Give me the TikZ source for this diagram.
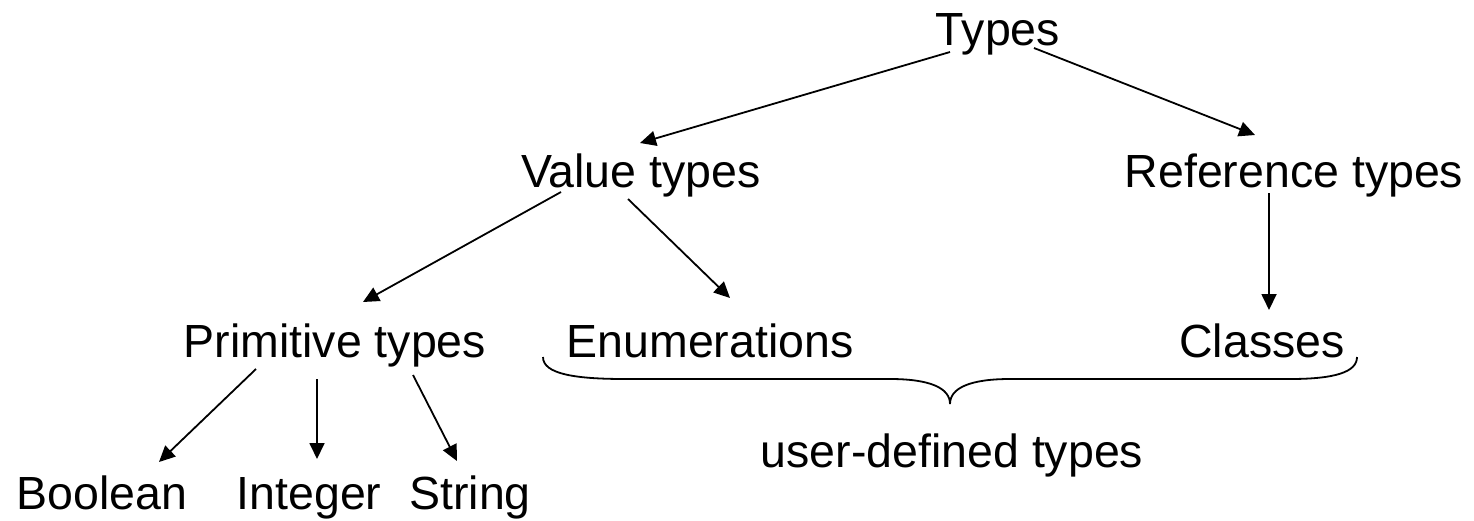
\documentclass[tikz,border=0pt]{standalone}
\usepackage{fontspec}
\setmainfont{Liberation Sans}
\usetikzlibrary{arrows.meta}
\begin{document}
\begin{tikzpicture}[x=1pt, y=-1pt,
  label/.style={inner sep=0pt, anchor=base, font=\fontsize{46.5pt}{52pt}\selectfont},
  arr/.style={line width=1.8pt, -{Triangle[length=16pt, width=15pt]}},
  bracepath/.style={line width=1.8pt}]
\useasboundingbox (0,0) rectangle (1474,520);

% type hierarchy labels
\node[label] (types) at (998,45) {Types};
\node[label] (value) at (641,187) {Value types};
\node[label] (ref)   at (1294,187) {Reference types};
\node[label] (prim)  at (335,357) {Primitive types};
\node[label] (enum)  at (710,357) {Enumerations};
\node[label] (cls)   at (1262,357) {Classes};
\node[label] (bool)  at (102,509) {Boolean};
\node[label] (int)   at (309,509) {Integer};
\node[label] (str)   at (470,509) {String};
\node[label] (user)  at (952,467) {user-defined types};

% arrows between levels
\draw[arr] ([shift={(-48,7)}]types.base) -- ([shift={(-1,-44)}]value.base);
\draw[arr] ([shift={(36,3)}]types.base) -- ([shift={(-39,-52)}]ref.base);
\draw[arr] ([shift={(-80,5)}]value.base) -- ([shift={(28,-55)}]prim.base);
\draw[arr] ([shift={(-13,12)}]value.base) -- ([shift={(20,-59)}]enum.base);
\draw[arr] ([shift={(-25,6)}]ref.base) -- ([shift={(7,-47)}]cls.base);
\draw[arr] ([shift={(-79,12)}]prim.base) -- ([shift={(57,-47)}]bool.base);
\draw[arr] ([shift={(-18,22)}]prim.base) -- ([shift={(8,-50)}]int.base);
\draw[arr] ([shift={(78,18)}]prim.base) -- ([shift={(-13,-48)}]str.base);

% brace grouping the user-defined types
\coordinate (bL) at (543,357);
\coordinate (bR) at (1357,357);
\coordinate (bT) at (950,404);
\draw[bracepath] (bL) .. controls (543,374) and (575,379) .. (625,379)
  -- (890,379) .. controls (930,379) and (950,388) .. (bT)
  .. controls (950,388) and (970,379) .. (1010,379)
  -- (1290,379) .. controls (1335,379) and (1357,372) .. (bR);
\end{tikzpicture}
\end{document}
